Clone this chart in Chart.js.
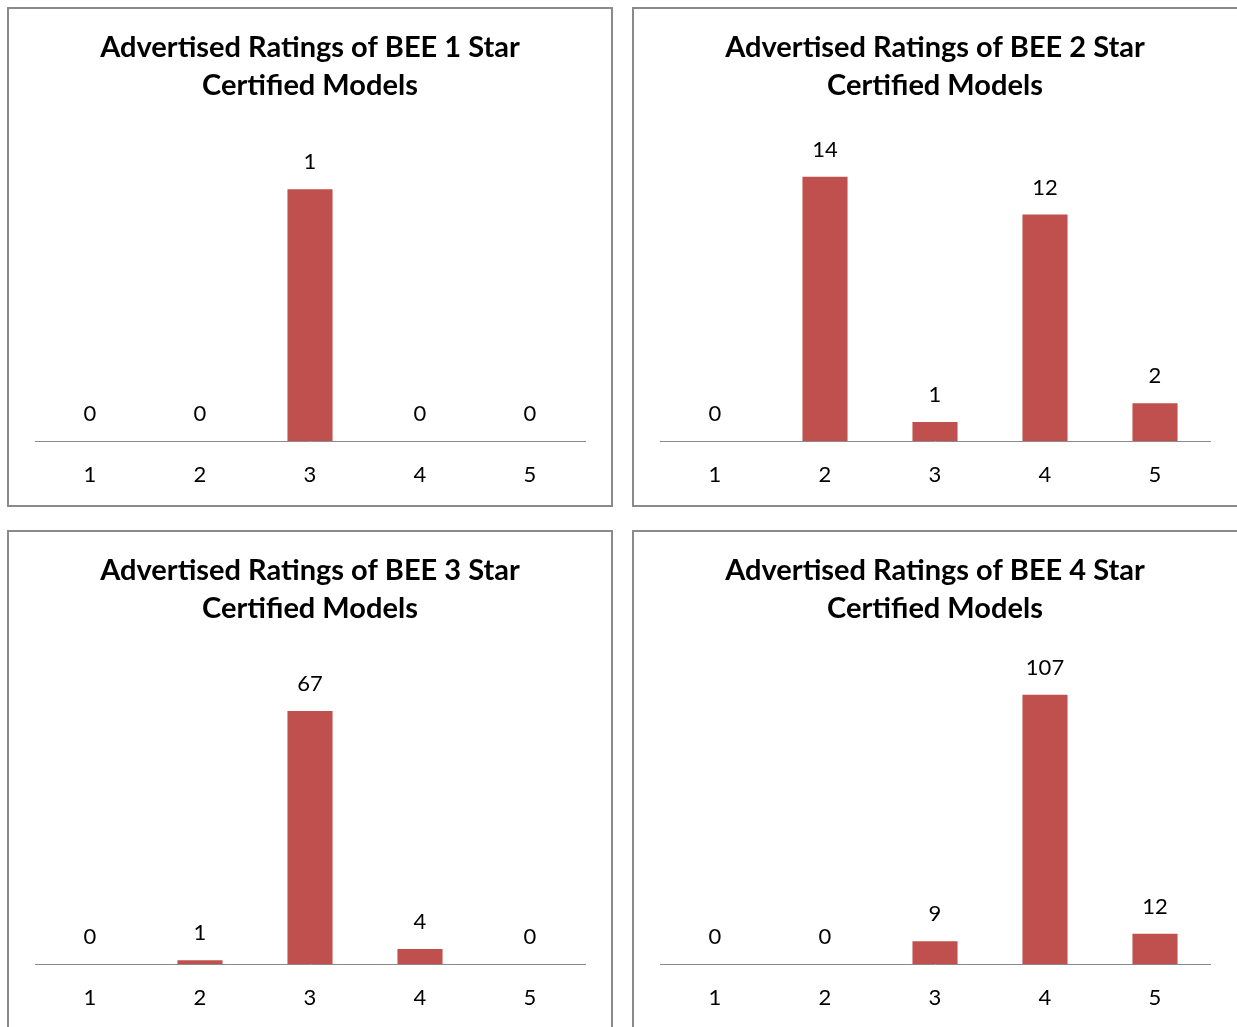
<!DOCTYPE html>
<html>
<head>
<meta charset="utf-8">
<script src="https://cdn.jsdelivr.net/npm/chart.js@4/dist/chart.umd.min.js"></script>
<style>
  html, body { margin: 0; padding: 0; background: #fff; overflow: hidden; }
  body { width: 1237px; height: 1027px; position: relative; }
  .panel { position: absolute; border: 2px solid #8a8a8a; background: #fff; box-sizing: border-box; }
  .panel canvas { position: absolute; left: 0; top: 0; }
</style>
</head>
<body>
<div class="panel" id="p1" style="left:7px; top:7px; width:606px; height:500px;"><canvas id="c1" width="602" height="496"></canvas></div>
<div class="panel" id="p2" style="left:632px; top:7px; width:612px; height:500px;"><canvas id="c2" width="602" height="496"></canvas></div>
<div class="panel" id="p3" style="left:7px; top:530px; width:606px; height:504px;"><canvas id="c3" width="602" height="496"></canvas></div>
<div class="panel" id="p4" style="left:632px; top:530px; width:612px; height:504px;"><canvas id="c4" width="602" height="496"></canvas></div>
<script>
const categories = ['1', '2', '3', '4', '5'];
const star1Values = [0, 0, 1, 0, 0];
const star2Values = [0, 14, 1, 12, 2];
const star3Values = [0, 1, 67, 4, 0];
const star4Values = [0, 0, 9, 107, 12];
const titles = [
  ['Advertised Ratings of BEE 1 Star', 'Certified Models'],
  ['Advertised Ratings of BEE 2 Star', 'Certified Models'],
  ['Advertised Ratings of BEE 3 Star', 'Certified Models'],
  ['Advertised Ratings of BEE 4 Star', 'Certified Models']
];
const yMax = [1.2, 16, 80, 120];

const FONT = "Lato, 'Open Sans', sans-serif";
const BAR = '#C0504D';

const valueLabels = {
  id: 'valueLabels',
  afterDatasetsDraw(chart) {
    const ctx = chart.ctx;
    const meta = chart.getDatasetMeta(0);
    const data = chart.data.datasets[0].data;
    ctx.save();
    ctx.fillStyle = '#000';
    ctx.font = '22px ' + FONT;
    ctx.textAlign = 'center';
    ctx.textBaseline = 'middle';
    meta.data.forEach((bar, i) => {
      ctx.fillText(String(data[i]), bar.x, bar.y - 27);
    });
    ctx.restore();
  }
};

function makeChart(id, values, title, max) {
  new Chart(document.getElementById(id), {
    type: 'bar',
    data: {
      labels: categories,
      datasets: [{ data: values, backgroundColor: BAR, barPercentage: 0.41, categoryPercentage: 1 }]
    },
    options: {
      responsive: false,
      animation: false,
      devicePixelRatio: 1,
      layout: { padding: { left: 26, right: 26, top: 0, bottom: 0 } },
      plugins: {
        legend: { display: false },
        tooltip: { enabled: false },
        title: {
          display: true,
          text: title,
          color: '#000',
          font: { family: FONT, size: 29, weight: 'bold', lineHeight: 1.31 },
          padding: { top: 20, bottom: 34 }
        }
      },
      scales: {
        x: {
          grid: { display: false, drawTicks: false },
          border: { display: true, color: '#8a8a8a', width: 1 },
          ticks: { color: '#000', font: { family: FONT, size: 22 }, padding: 21 },
          afterFit(scale) { scale.height = 64; }
        },
        y: { display: false, min: 0, max: max }
      }
    },
    plugins: [valueLabels]
  });
}

makeChart('c1', star1Values, titles[0], yMax[0]);
makeChart('c2', star2Values, titles[1], yMax[1]);
makeChart('c3', star3Values, titles[2], yMax[2]);
makeChart('c4', star4Values, titles[3], yMax[3]);
</script>
</body>
</html>
